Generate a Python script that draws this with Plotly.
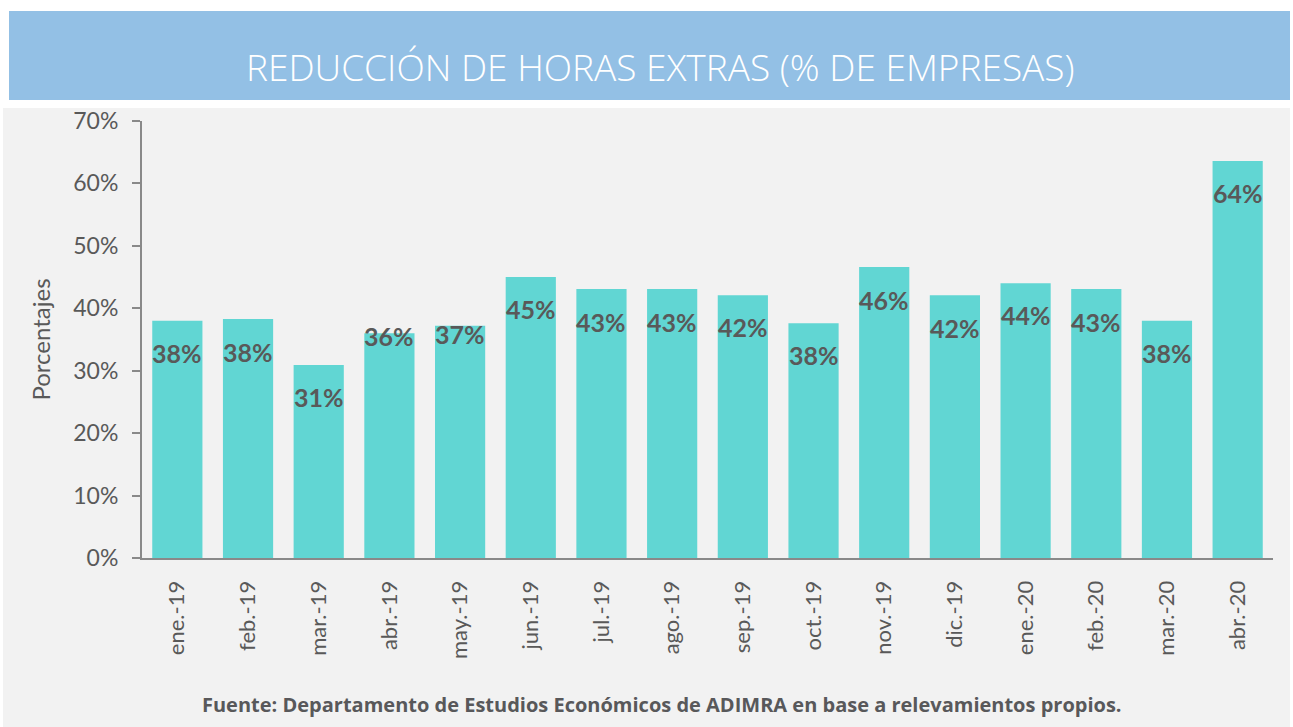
import plotly.graph_objects as go

categories = ["ene.-19", "feb.-19", "mar.-19", "abr.-19", "may.-19", "jun.-19",
              "jul.-19", "ago.-19", "sep.-19", "oct.-19", "nov.-19", "dic.-19",
              "ene.-20", "feb.-20", "mar.-20", "abr.-20"]
values = [0.380, 0.383, 0.309, 0.360, 0.372, 0.450, 0.431, 0.431, 0.421, 0.376,
          0.466, 0.421, 0.440, 0.431, 0.380, 0.636]
labels = ["38%", "38%", "31%", "36%", "37%", "45%", "43%", "43%", "42%", "38%",
          "46%", "42%", "44%", "43%", "38%", "64%"]
# label offsets below bar top (pixels), as placed in the source chart
label_offsets = [32, 33, 32, 3, 8, 32, 33, 33, 32, 32, 33, 33, 32, 33, 32, 32]
y_ticks = [0, 0.1, 0.2, 0.3, 0.4, 0.5, 0.6, 0.7]
y_tick_text = ["0%", "10%", "20%", "30%", "40%", "50%", "60%", "70%"]

TITLE = "REDUCCIÓN DE HORAS EXTRAS (% DE EMPRESAS)"
SOURCE = "Fuente: Departamento de Estudios Económicos de ADIMRA en base a relevamientos propios."

W, H = 1293, 727
L, R, T, B = 142, 20, 121, 169
PW, PH = W - L - R, H - T - B

def px_x(x):
    return (x - L) / PW

def px_y(y):
    return (H - B - y) / PH

TEXT = "#595959"

fig = go.Figure()
fig.add_trace(go.Bar(
    x=categories, y=values,
    marker=dict(color="#61D6D3", line=dict(width=0)),
    hoverinfo="x+y",
))

for c, v, lab, off in zip(categories, values, labels, label_offsets):
    fig.add_annotation(
        x=c, y=v, xref="x", yref="y", text=lab, showarrow=False,
        yanchor="middle", yshift=-off,
        font=dict(family="Lato", size=25, color=TEXT, weight="bold"),
    )

shapes = [
    dict(type="rect", xref="paper", yref="paper", layer="below",
         x0=px_x(3), x1=px_x(1290), y0=px_y(727), y1=px_y(108),
         fillcolor="#F2F2F2", line=dict(width=0)),
    dict(type="rect", xref="paper", yref="paper", layer="below",
         x0=px_x(9), x1=px_x(1290), y0=px_y(100), y1=px_y(11),
         fillcolor="#93C0E5", line=dict(width=0)),
]

fig.add_annotation(
    x=px_x(660), y=px_y(66), xref="paper", yref="paper", text=TITLE,
    showarrow=False, xanchor="center", yanchor="middle",
    font=dict(family="Open Sans", size=37, color="white", weight=300),
)
fig.add_annotation(
    x=px_x(662), y=px_y(704), xref="paper", yref="paper", text=SOURCE,
    showarrow=False, xanchor="center", yanchor="middle",
    font=dict(family="Open Sans", size=20, color="#58585A", weight="bold"),
)

fig.update_layout(
    width=W, height=H,
    margin=dict(l=L, r=R, t=T, b=B, pad=0),
    paper_bgcolor="white",
    plot_bgcolor="rgba(0,0,0,0)",
    bargap=0.29,
    showlegend=False,
    shapes=shapes,
    xaxis=dict(
        type="category",
        tickangle=-90,
        tickfont=dict(family="Lato", size=22, color=TEXT),
        showline=True, linecolor="#898989", linewidth=2,
        ticks="", showgrid=False, zeroline=False,
        ticklabelstandoff=12,
    ),
    yaxis=dict(
        range=[0, 0.7],
        tickvals=y_ticks, ticktext=y_tick_text,
        tickfont=dict(family="Lato", size=23, color=TEXT),
        showline=True, linecolor="#898989", linewidth=2,
        ticks="outside", ticklen=8, tickcolor="#898989", tickwidth=2,
        showgrid=False, zeroline=False,
        ticklabelstandoff=9,
        title=dict(text="Porcentajes", font=dict(family="Lato", size=24, color=TEXT),
                   standoff=16),
    ),
)

fig.write_html(
    "out.html",
    config={"displayModeBar": False},
    post_script="document.body.style.margin='0';document.body.style.overflow='hidden';",
)
